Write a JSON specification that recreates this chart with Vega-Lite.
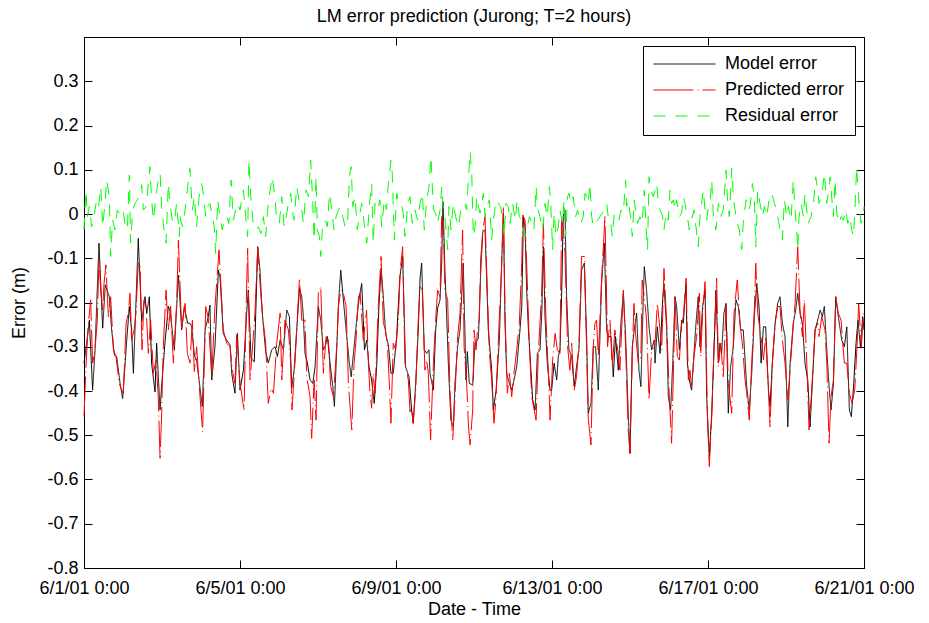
{
  "$schema": "https://vega.github.io/schema/vega-lite/v6.json",
  "width": 780,
  "height": 531,
  "autosize": {"type": "none"},
  "padding": {"left": 84, "top": 37, "right": 65, "bottom": 55},
  "background": "white",
  "config": {
    "font": "Liberation Sans",
    "view": {"stroke": "black", "strokeWidth": 1},
    "axis": {
      "grid": false,
      "domainColor": "black",
      "domainWidth": 1,
      "tickColor": "black",
      "tickWidth": 1,
      "tickSize": -8,
      "labelColor": "black",
      "labelFont": "Liberation Sans",
      "labelFontSize": 18,
      "titleColor": "black",
      "titleFont": "Liberation Sans",
      "titleFontSize": 18,
      "titleFontWeight": "normal",
      "labelFlush": false,
      "labelOverlap": false
    },
    "title": {"font": "Liberation Sans", "fontSize": 18, "fontWeight": "normal", "color": "black", "offset": 11},
    "legend": {
      "orient": "top-right",
      "offset": 9,
      "symbolType": "stroke",
      "symbolSize": 3844,
      "symbolStrokeWidth": 1,
      "labelFont": "Liberation Sans",
      "labelFontSize": 18,
      "labelColor": "black",
      "labelOffset": 9,
      "fillColor": "white",
      "strokeColor": "black",
      "padding": 10,
      "rowPadding": 8,
      "clipHeight": 16,
      "cornerRadius": 0
    }
  },
  "title": "LM error prediction (Jurong; T=2 hours)",
  "datasets": {
    "model": [
      {"h":0,"v":-0.337},{"h":1.6,"v":-0.292},{"h":3.3,"v":-0.24},{"h":5.3,"v":-0.398},{"h":6.8,"v":-0.307},{"h":9.2,"v":-0.066},{"h":11.5,"v":-0.258},{"h":13.1,"v":-0.16},{"h":15.6,"v":-0.187},{"h":17,"v":-0.262},{"h":18.7,"v":-0.319},{"h":20.1,"v":-0.322},{"h":22.2,"v":-0.383},{"h":23.8,"v":-0.417},{"h":26.3,"v":-0.285},{"h":27.9,"v":-0.209},{"h":29.3,"v":-0.262},{"h":30.4,"v":-0.36},{"h":33.4,"v":-0.055},{"h":35.5,"v":-0.243},{"h":37.5,"v":-0.187},{"h":38.6,"v":-0.224},{"h":40.2,"v":-0.187},{"h":41.6,"v":-0.337},{"h":43.7,"v":-0.402},{"h":44.7,"v":-0.292},{"h":46.8,"v":-0.443},{"h":47.8,"v":-0.386},{"h":49.8,"v":-0.292},{"h":51.9,"v":-0.209},{"h":52.9,"v":-0.217},{"h":55.6,"v":-0.307},{"h":58.1,"v":-0.138},{"h":60.1,"v":-0.262},{"h":61.7,"v":-0.209},{"h":63.8,"v":-0.247},{"h":65.2,"v":-0.247},{"h":66.3,"v":-0.255},{"h":67.9,"v":-0.319},{"h":69.3,"v":-0.33},{"h":70.8,"v":-0.375},{"h":72.8,"v":-0.435},{"h":74.5,"v":-0.262},{"h":76.5,"v":-0.232},{"h":77.5,"v":-0.206},{"h":78.6,"v":-0.375},{"h":80.6,"v":-0.3},{"h":82.7,"v":-0.127},{"h":83.7,"v":-0.142},{"h":85.7,"v":-0.27},{"h":87.8,"v":-0.285},{"h":89.9,"v":-0.296},{"h":90.9,"v":-0.36},{"h":92.9,"v":-0.405},{"h":94.4,"v":-0.27},{"h":96,"v":-0.398},{"h":98.1,"v":-0.353},{"h":100.1,"v":-0.224},{"h":101.1,"v":-0.172},{"h":102.8,"v":-0.326},{"h":104.8,"v":-0.334},{"h":106.9,"v":-0.074},{"h":108.3,"v":-0.127},{"h":109.7,"v":-0.224},{"h":111.8,"v":-0.311},{"h":113.4,"v":-0.337},{"h":115.5,"v":-0.307},{"h":117.6,"v":-0.3},{"h":119,"v":-0.322},{"h":120.7,"v":-0.285},{"h":122.7,"v":-0.307},{"h":124.8,"v":-0.217},{"h":126.4,"v":-0.232},{"h":127.8,"v":-0.394},{"h":129.3,"v":-0.353},{"h":130.9,"v":-0.262},{"h":132.6,"v":-0.168},{"h":134,"v":-0.187},{"h":135,"v":-0.232},{"h":136,"v":-0.315},{"h":137.5,"v":-0.337},{"h":139.1,"v":-0.375},{"h":140.8,"v":-0.383},{"h":142.2,"v":-0.345},{"h":144.2,"v":-0.209},{"h":145.7,"v":-0.24},{"h":147.3,"v":-0.307},{"h":148.4,"v":-0.3},{"h":149.8,"v":-0.277},{"h":151.4,"v":-0.337},{"h":153.1,"v":-0.39},{"h":154.1,"v":-0.435},{"h":155.5,"v":-0.307},{"h":156.6,"v":-0.202},{"h":158,"v":-0.127},{"h":159.6,"v":-0.194},{"h":161.7,"v":-0.277},{"h":163.3,"v":-0.337},{"h":164.4,"v":-0.368},{"h":165.8,"v":-0.315},{"h":168.2,"v":-0.224},{"h":169.5,"v":-0.187},{"h":170.9,"v":-0.157},{"h":172.6,"v":-0.307},{"h":174,"v":-0.285},{"h":175.4,"v":-0.345},{"h":177,"v":-0.375},{"h":178.6,"v":-0.428},{"h":180.1,"v":-0.345},{"h":181.5,"v":-0.209},{"h":182.8,"v":-0.123},{"h":184.2,"v":-0.187},{"h":185.6,"v":-0.27},{"h":187.3,"v":-0.296},{"h":188.9,"v":-0.36},{"h":190.3,"v":-0.36},{"h":192.4,"v":-0.277},{"h":194.4,"v":-0.142},{"h":196.1,"v":-0.096},{"h":197.9,"v":-0.345},{"h":200,"v":-0.368},{"h":201.6,"v":-0.443},{"h":202.6,"v":-0.473},{"h":204.1,"v":-0.383},{"h":205.7,"v":-0.262},{"h":206.8,"v":-0.145},{"h":207.8,"v":-0.111},{"h":209.4,"v":-0.307},{"h":210.9,"v":-0.315},{"h":212.3,"v":-0.307},{"h":212.9,"v":-0.36},{"h":215,"v":-0.398},{"h":216.4,"v":-0.262},{"h":217.6,"v":-0.213},{"h":219.1,"v":-0.194},{"h":220.1,"v":-0.111},{"h":220.9,"v":0.028},{"h":222.1,"v":-0.127},{"h":223.2,"v":-0.232},{"h":224.2,"v":-0.337},{"h":225.8,"v":-0.466},{"h":227.3,"v":-0.481},{"h":228.3,"v":-0.383},{"h":229.9,"v":-0.3},{"h":231.4,"v":-0.262},{"h":233.4,"v":-0.111},{"h":235.1,"v":-0.375},{"h":235.9,"v":-0.311},{"h":237.1,"v":-0.383},{"h":239.2,"v":-0.386},{"h":240.6,"v":-0.292},{"h":242.7,"v":-0.281},{"h":244.1,"v":-0.134},{"h":245.4,"v":-0.04},{"h":246.8,"v":-0.036},{"h":247.8,"v":-0.149},{"h":248.8,"v":-0.262},{"h":250.9,"v":-0.353},{"h":251.9,"v":-0.443},{"h":253.6,"v":-0.398},{"h":255.6,"v":-0.285},{"h":257,"v":-0.111},{"h":258.1,"v":0.002},{"h":259.1,"v":-0.247},{"h":260.1,"v":-0.36},{"h":261.8,"v":-0.383},{"h":263.2,"v":-0.398},{"h":264.2,"v":-0.383},{"h":266.3,"v":-0.345},{"h":268.3,"v":-0.262},{"h":269.4,"v":-0.209},{"h":270.4,"v":-0.006},{"h":271.4,"v":-0.029},{"h":272.4,"v":-0.172},{"h":273.5,"v":-0.262},{"h":274.9,"v":-0.345},{"h":276.1,"v":-0.42},{"h":277.6,"v":-0.443},{"h":279,"v":-0.315},{"h":280.6,"v":-0.307},{"h":281.7,"v":-0.224},{"h":282.7,"v":-0.074},{"h":283.7,"v":-0.232},{"h":285.1,"v":-0.337},{"h":286.8,"v":-0.398},{"h":287.8,"v":-0.398},{"h":289.3,"v":-0.337},{"h":290.9,"v":-0.375},{"h":291.9,"v":-0.322},{"h":292.9,"v":-0.307},{"h":293.9,"v":-0.187},{"h":294.9,"v":-0.006},{"h":296,"v":0.009},{"h":297,"v":-0.187},{"h":298.4,"v":-0.307},{"h":300.1,"v":-0.322},{"h":301.7,"v":-0.39},{"h":303.1,"v":-0.345},{"h":304.6,"v":-0.307},{"h":306.2,"v":-0.127},{"h":307.9,"v":-0.111},{"h":309.3,"v":-0.277},{"h":310.3,"v":-0.45},{"h":312,"v":-0.428},{"h":313.4,"v":-0.3},{"h":314.8,"v":-0.3},{"h":316.5,"v":-0.398},{"h":318.5,"v":-0.157},{"h":320.2,"v":-0.066},{"h":321.6,"v":-0.262},{"h":322.6,"v":-0.277},{"h":324.3,"v":-0.277},{"h":325.7,"v":-0.368},{"h":327.1,"v":-0.277},{"h":328.8,"v":-0.353},{"h":330.4,"v":-0.247},{"h":331.9,"v":-0.179},{"h":333.3,"v":-0.277},{"h":334.9,"v":-0.45},{"h":336,"v":-0.541},{"h":337.4,"v":-0.3},{"h":338.6,"v":-0.262},{"h":340.1,"v":-0.224},{"h":341.5,"v":-0.353},{"h":342.7,"v":-0.39},{"h":344.2,"v":-0.187},{"h":344.8,"v":-0.119},{"h":346.2,"v":-0.172},{"h":347.7,"v":-0.255},{"h":349.3,"v":-0.307},{"h":350.9,"v":-0.285},{"h":351.4,"v":-0.337},{"h":352.8,"v":-0.255},{"h":354.5,"v":-0.315},{"h":356.1,"v":-0.194},{"h":356.9,"v":-0.157},{"h":358.6,"v":-0.262},{"h":359.6,"v":-0.413},{"h":361,"v":-0.443},{"h":362.3,"v":-0.337},{"h":363.7,"v":-0.187},{"h":364.7,"v":-0.209},{"h":366.4,"v":-0.307},{"h":367.8,"v":-0.24},{"h":368.8,"v":-0.247},{"h":370.5,"v":-0.157},{"h":371.3,"v":-0.337},{"h":372.5,"v":-0.375},{"h":373.9,"v":-0.398},{"h":375,"v":-0.337},{"h":376.6,"v":-0.247},{"h":378,"v":-0.187},{"h":379.1,"v":-0.3},{"h":380.7,"v":-0.209},{"h":382.2,"v":-0.172},{"h":383.2,"v":-0.413},{"h":384.8,"v":-0.548},{"h":386.3,"v":-0.45},{"h":387.7,"v":-0.307},{"h":388.9,"v":-0.172},{"h":390.4,"v":-0.337},{"h":391.4,"v":-0.292},{"h":392.4,"v":-0.315},{"h":393.8,"v":-0.224},{"h":395.1,"v":-0.202},{"h":396.5,"v":-0.45},{"h":397.9,"v":-0.345},{"h":399.6,"v":-0.3},{"h":401.2,"v":-0.194},{"h":402.7,"v":-0.209},{"h":404.1,"v":-0.262},{"h":405.7,"v":-0.262},{"h":407.8,"v":-0.39},{"h":409.4,"v":-0.443},{"h":410.9,"v":-0.36},{"h":412.5,"v":-0.232},{"h":414,"v":-0.157},{"h":415.4,"v":-0.209},{"h":416.7,"v":-0.337},{"h":418.1,"v":-0.255},{"h":419.5,"v":-0.255},{"h":421.2,"v":-0.398},{"h":422.2,"v":-0.435},{"h":423.6,"v":-0.337},{"h":425.3,"v":-0.247},{"h":426.9,"v":-0.202},{"h":428.3,"v":-0.187},{"h":429.8,"v":-0.247},{"h":431.4,"v":-0.277},{"h":433.1,"v":-0.481},{"h":434.5,"v":-0.337},{"h":436.5,"v":-0.247},{"h":438,"v":-0.217},{"h":439.2,"v":-0.179},{"h":440.7,"v":-0.224},{"h":442.1,"v":-0.247},{"h":443.7,"v":-0.337},{"h":445.4,"v":-0.375},{"h":446.8,"v":-0.481},{"h":448.2,"v":-0.383},{"h":449.9,"v":-0.262},{"h":451.5,"v":-0.24},{"h":453,"v":-0.217},{"h":454.4,"v":-0.232},{"h":455.6,"v":-0.209},{"h":457.1,"v":-0.307},{"h":458.5,"v":-0.39},{"h":459.7,"v":-0.443},{"h":461.2,"v":-0.383},{"h":462.6,"v":-0.187},{"h":464.2,"v":-0.232},{"h":466.3,"v":-0.285},{"h":467.9,"v":-0.3},{"h":469.4,"v":-0.255},{"h":471,"v":-0.443},{"h":472.2,"v":-0.458},{"h":473.7,"v":-0.383},{"h":475.1,"v":-0.292},{"h":476.3,"v":-0.24},{"h":477.8,"v":-0.3},{"h":479.2,"v":-0.232},{"h":480,"v":-0.262}
    ],
    "pred": [
      {"h":0,"v":-0.458},{"h":1.2,"v":-0.345},{"h":2.7,"v":-0.247},{"h":4.1,"v":-0.194},{"h":5.3,"v":-0.337},{"h":6.8,"v":-0.307},{"h":8.2,"v":-0.24},{"h":9.2,"v":-0.104},{"h":10.3,"v":-0.172},{"h":11.5,"v":-0.217},{"h":12.3,"v":-0.157},{"h":13.5,"v":-0.115},{"h":15,"v":-0.232},{"h":16.4,"v":-0.187},{"h":18.1,"v":-0.307},{"h":19.7,"v":-0.322},{"h":21.7,"v":-0.383},{"h":23.2,"v":-0.398},{"h":24.2,"v":-0.405},{"h":25.9,"v":-0.247},{"h":27.3,"v":-0.224},{"h":28.3,"v":-0.179},{"h":29.3,"v":-0.285},{"h":30.8,"v":-0.262},{"h":32,"v":-0.224},{"h":33.4,"v":-0.111},{"h":34.5,"v":-0.111},{"h":35.7,"v":-0.307},{"h":36.9,"v":-0.194},{"h":38.2,"v":-0.209},{"h":39.6,"v":-0.315},{"h":41,"v":-0.24},{"h":42.7,"v":-0.36},{"h":44.3,"v":-0.33},{"h":45.7,"v":-0.413},{"h":46.8,"v":-0.552},{"h":47.8,"v":-0.45},{"h":48.8,"v":-0.3},{"h":50.5,"v":-0.172},{"h":51.9,"v":-0.262},{"h":53.3,"v":-0.209},{"h":55,"v":-0.337},{"h":57,"v":-0.202},{"h":58.1,"v":-0.059},{"h":60.1,"v":-0.26},{"h":62.2,"v":-0.202},{"h":63.6,"v":-0.315},{"h":65.2,"v":-0.337},{"h":66.7,"v":-0.24},{"h":67.9,"v":-0.356},{"h":69.3,"v":-0.3},{"h":71.4,"v":-0.413},{"h":73,"v":-0.492},{"h":74.9,"v":-0.209},{"h":76.5,"v":-0.236},{"h":78.6,"v":-0.368},{"h":80.6,"v":-0.209},{"h":83.1,"v":-0.081},{"h":85.7,"v":-0.262},{"h":87.8,"v":-0.292},{"h":89.9,"v":-0.3},{"h":91.3,"v":-0.353},{"h":92.9,"v":-0.383},{"h":94,"v":-0.273},{"h":96,"v":-0.383},{"h":98.5,"v":-0.443},{"h":100.1,"v":-0.16},{"h":100.7,"v":-0.078},{"h":102.2,"v":-0.375},{"h":103.6,"v":-0.307},{"h":105.2,"v":-0.224},{"h":106.9,"v":-0.078},{"h":108.9,"v":-0.187},{"h":110.4,"v":-0.247},{"h":111.8,"v":-0.292},{"h":113.4,"v":-0.428},{"h":115.1,"v":-0.394},{"h":116.6,"v":-0.405},{"h":118.6,"v":-0.292},{"h":120.7,"v":-0.224},{"h":121.7,"v":-0.375},{"h":123.7,"v":-0.24},{"h":125.8,"v":-0.262},{"h":127.2,"v":-0.337},{"h":128,"v":-0.443},{"h":129.9,"v":-0.33},{"h":130.9,"v":-0.262},{"h":132.6,"v":-0.145},{"h":134,"v":-0.24},{"h":136,"v":-0.24},{"h":137.1,"v":-0.368},{"h":139.1,"v":-0.413},{"h":140.1,"v":-0.507},{"h":141.6,"v":-0.375},{"h":142.8,"v":-0.466},{"h":144.2,"v":-0.179},{"h":145.7,"v":-0.164},{"h":147.3,"v":-0.36},{"h":149,"v":-0.277},{"h":150.4,"v":-0.285},{"h":151.8,"v":-0.39},{"h":153.5,"v":-0.413},{"h":155.5,"v":-0.3},{"h":156.6,"v":-0.209},{"h":158,"v":-0.172},{"h":159.6,"v":-0.179},{"h":161.3,"v":-0.209},{"h":162.7,"v":-0.383},{"h":163.7,"v":-0.435},{"h":164.8,"v":-0.488},{"h":166.2,"v":-0.337},{"h":167.4,"v":-0.285},{"h":168.9,"v":-0.187},{"h":169.9,"v":-0.179},{"h":171.9,"v":-0.285},{"h":173.9,"v":-0.217},{"h":175,"v":-0.337},{"h":176,"v":-0.405},{"h":177,"v":-0.439},{"h":178,"v":-0.36},{"h":179.1,"v":-0.405},{"h":181.1,"v":-0.209},{"h":182.8,"v":-0.096},{"h":184.2,"v":-0.247},{"h":185.6,"v":-0.262},{"h":186.9,"v":-0.307},{"h":187.7,"v":-0.368},{"h":188.9,"v":-0.473},{"h":190.3,"v":-0.292},{"h":191.8,"v":-0.307},{"h":193.4,"v":-0.24},{"h":194.6,"v":-0.127},{"h":196.1,"v":-0.074},{"h":197.5,"v":-0.337},{"h":199.6,"v":-0.375},{"h":200.6,"v":-0.447},{"h":201.6,"v":-0.435},{"h":202.6,"v":-0.473},{"h":204.1,"v":-0.398},{"h":205.7,"v":-0.24},{"h":206.8,"v":-0.164},{"h":208.2,"v":-0.172},{"h":209.8,"v":-0.353},{"h":210.9,"v":-0.33},{"h":211.9,"v":-0.36},{"h":213.3,"v":-0.511},{"h":215,"v":-0.337},{"h":216.4,"v":-0.24},{"h":217.6,"v":-0.172},{"h":219.1,"v":-0.187},{"h":220.1,"v":-0.006},{"h":221.1,"v":-0.014},{"h":222.1,"v":-0.172},{"h":223.8,"v":-0.194},{"h":225.2,"v":-0.398},{"h":226.9,"v":-0.511},{"h":228.3,"v":-0.413},{"h":229.9,"v":-0.277},{"h":231.4,"v":-0.224},{"h":233,"v":-0.036},{"h":233.9,"v":-0.3},{"h":235.5,"v":-0.383},{"h":236.5,"v":-0.473},{"h":237.6,"v":-0.522},{"h":239.2,"v":-0.443},{"h":240,"v":-0.262},{"h":241.3,"v":-0.307},{"h":242.1,"v":-0.262},{"h":243.3,"v":-0.24},{"h":244.1,"v":-0.104},{"h":245.4,"v":-0.036},{"h":246.8,"v":-0.006},{"h":247.8,"v":-0.127},{"h":249.5,"v":-0.315},{"h":250.9,"v":-0.375},{"h":252.3,"v":-0.473},{"h":253.6,"v":-0.413},{"h":255.6,"v":-0.232},{"h":257,"v":-0.119},{"h":258.1,"v":0.017},{"h":259.1,"v":-0.224},{"h":260.5,"v":-0.405},{"h":261.8,"v":-0.36},{"h":263.2,"v":-0.413},{"h":264.6,"v":-0.36},{"h":266.3,"v":-0.307},{"h":267.9,"v":-0.247},{"h":269.4,"v":-0.111},{"h":270,"v":-0.002},{"h":271.4,"v":-0.014},{"h":272.4,"v":-0.111},{"h":274.1,"v":-0.3},{"h":275.5,"v":-0.413},{"h":278.2,"v":-0.466},{"h":279.6,"v":-0.315},{"h":281.7,"v":-0.172},{"h":282.7,"v":-0.021},{"h":284.3,"v":-0.24},{"h":285.8,"v":-0.36},{"h":286.8,"v":-0.466},{"h":288.4,"v":-0.33},{"h":289.9,"v":-0.27},{"h":291.3,"v":-0.307},{"h":292.9,"v":-0.315},{"h":293.9,"v":-0.014},{"h":294.9,"v":-0.029},{"h":296,"v":-0.089},{"h":297.6,"v":-0.3},{"h":299,"v":-0.353},{"h":300.1,"v":-0.292},{"h":301.7,"v":-0.398},{"h":303.1,"v":-0.368},{"h":304.6,"v":-0.292},{"h":306.2,"v":-0.096},{"h":307.9,"v":-0.096},{"h":309.3,"v":-0.307},{"h":310.3,"v":-0.462},{"h":312,"v":-0.522},{"h":313.4,"v":-0.3},{"h":314.4,"v":-0.247},{"h":315.4,"v":-0.24},{"h":316.5,"v":-0.322},{"h":318.5,"v":-0.149},{"h":320.6,"v":-0.006},{"h":322.2,"v":-0.3},{"h":323.7,"v":-0.24},{"h":325.1,"v":-0.345},{"h":326.7,"v":-0.262},{"h":328.4,"v":-0.307},{"h":329.8,"v":-0.353},{"h":331.9,"v":-0.172},{"h":333.3,"v":-0.3},{"h":334.9,"v":-0.488},{"h":336,"v":-0.541},{"h":337.4,"v":-0.322},{"h":338.4,"v":-0.202},{"h":339.4,"v":-0.27},{"h":341.1,"v":-0.337},{"h":342.7,"v":-0.322},{"h":343.5,"v":-0.149},{"h":344.8,"v":-0.187},{"h":346.2,"v":-0.24},{"h":347.7,"v":-0.42},{"h":349.3,"v":-0.307},{"h":351.3,"v":-0.3},{"h":352.8,"v":-0.202},{"h":354.5,"v":-0.262},{"h":355.5,"v":-0.307},{"h":356.9,"v":-0.123},{"h":358.6,"v":-0.247},{"h":360.2,"v":-0.413},{"h":361.6,"v":-0.518},{"h":363.1,"v":-0.3},{"h":363.7,"v":-0.187},{"h":365.1,"v":-0.322},{"h":366.4,"v":-0.33},{"h":367.8,"v":-0.247},{"h":368.8,"v":-0.232},{"h":370.5,"v":-0.145},{"h":371.9,"v":-0.375},{"h":372.9,"v":-0.353},{"h":373.9,"v":-0.39},{"h":375.4,"v":-0.322},{"h":377,"v":-0.277},{"h":378.7,"v":-0.179},{"h":379.5,"v":-0.322},{"h":380.7,"v":-0.224},{"h":382.2,"v":-0.153},{"h":383.6,"v":-0.45},{"h":384.8,"v":-0.571},{"h":386.3,"v":-0.458},{"h":387.7,"v":-0.3},{"h":389.3,"v":-0.145},{"h":390.4,"v":-0.345},{"h":391.8,"v":-0.292},{"h":393.4,"v":-0.368},{"h":395.1,"v":-0.209},{"h":396.5,"v":-0.383},{"h":398.6,"v":-0.45},{"h":400,"v":-0.224},{"h":402,"v":-0.149},{"h":403.7,"v":-0.247},{"h":405.3,"v":-0.3},{"h":406.8,"v":-0.375},{"h":407.8,"v":-0.405},{"h":409.4,"v":-0.466},{"h":410.9,"v":-0.337},{"h":412.5,"v":-0.217},{"h":413.4,"v":-0.111},{"h":414.6,"v":-0.224},{"h":416,"v":-0.262},{"h":417.1,"v":-0.292},{"h":418.1,"v":-0.33},{"h":419.5,"v":-0.277},{"h":421.2,"v":-0.398},{"h":422.2,"v":-0.481},{"h":423.6,"v":-0.337},{"h":425.3,"v":-0.247},{"h":426.9,"v":-0.209},{"h":428.3,"v":-0.209},{"h":429.8,"v":-0.285},{"h":431.4,"v":-0.337},{"h":433.1,"v":-0.42},{"h":434.5,"v":-0.353},{"h":436.5,"v":-0.247},{"h":437.6,"v":-0.202},{"h":439.2,"v":-0.074},{"h":440.7,"v":-0.224},{"h":442.1,"v":-0.277},{"h":443.3,"v":-0.194},{"h":444.8,"v":-0.337},{"h":446.2,"v":-0.488},{"h":447.8,"v":-0.398},{"h":449.9,"v":-0.262},{"h":451.5,"v":-0.247},{"h":452.3,"v":-0.277},{"h":454,"v":-0.232},{"h":456,"v":-0.262},{"h":457.1,"v":-0.337},{"h":458.5,"v":-0.518},{"h":459.7,"v":-0.413},{"h":461.2,"v":-0.375},{"h":462.6,"v":-0.187},{"h":464.2,"v":-0.224},{"h":465.9,"v":-0.24},{"h":467.9,"v":-0.337},{"h":469.4,"v":-0.337},{"h":471,"v":-0.405},{"h":472.6,"v":-0.428},{"h":474.3,"v":-0.398},{"h":475.7,"v":-0.3},{"h":476.7,"v":-0.202},{"h":478.4,"v":-0.3},{"h":479.8,"v":-0.217}
    ],
    "resid": [
      {"h":0,"v":-0.036},{"h":1.2,"v":0.054},{"h":2.1,"v":-0.006},{"h":3.3,"v":0.017},{"h":4.7,"v":-0.029},{"h":6.2,"v":-0.006},{"h":7.4,"v":0.024},{"h":8.8,"v":0.009},{"h":10.3,"v":0.062},{"h":11.5,"v":-0.029},{"h":12.9,"v":0.024},{"h":14,"v":0.077},{"h":15.6,"v":0.039},{"h":16.4,"v":-0.096},{"h":17.6,"v":-0.014},{"h":19.1,"v":-0.036},{"h":20.5,"v":0.009},{"h":21.7,"v":0.002},{"h":23.2,"v":-0.006},{"h":24.2,"v":0.005},{"h":25.2,"v":-0.021},{"h":26.7,"v":-0.036},{"h":27.9,"v":0.088},{"h":28.7,"v":-0.066},{"h":30,"v":0.009},{"h":31.4,"v":0.024},{"h":32.8,"v":0.032},{"h":34.1,"v":0.039},{"h":35.5,"v":0.066},{"h":36.5,"v":0.009},{"h":38.2,"v":0.017},{"h":39.6,"v":0.069},{"h":40.6,"v":0.107},{"h":41.6,"v":0.032},{"h":42.7,"v":-0.014},{"h":44.3,"v":0.039},{"h":45.7,"v":0.077},{"h":46.8,"v":0.092},{"h":47.8,"v":0.017},{"h":49.2,"v":-0.036},{"h":50.5,"v":-0.066},{"h":51.9,"v":0.069},{"h":52.9,"v":0.024},{"h":54.6,"v":-0.021},{"h":56,"v":-0.006},{"h":57,"v":0.024},{"h":58.7,"v":-0.051},{"h":59.1,"v":-0.006},{"h":60.5,"v":-0.029},{"h":62.2,"v":0.009},{"h":63.8,"v":0.062},{"h":65.2,"v":0.103},{"h":66.7,"v":0.009},{"h":67.9,"v":0.039},{"h":69.3,"v":-0.029},{"h":70.8,"v":0.039},{"h":72.4,"v":0.069},{"h":73.4,"v":0.047},{"h":74.9,"v":-0.006},{"h":76.1,"v":0.017},{"h":77.5,"v":0.024},{"h":79,"v":-0.006},{"h":80.2,"v":-0.029},{"h":81,"v":-0.089},{"h":82.3,"v":0.032},{"h":83.7,"v":-0.006},{"h":85.1,"v":-0.036},{"h":86.4,"v":-0.014},{"h":87.8,"v":-0.006},{"h":89.2,"v":-0.021},{"h":90.5,"v":0.077},{"h":91.9,"v":-0.014},{"h":93.3,"v":0.009},{"h":94.6,"v":0.024},{"h":96,"v":0.009},{"h":98.1,"v":0.054},{"h":99.5,"v":-0.006},{"h":100.7,"v":-0.051},{"h":101.5,"v":0.122},{"h":102.8,"v":0.024},{"h":104.2,"v":-0.021},{"h":105.6,"v":-0.036},{"h":107.3,"v":-0.029},{"h":108.9,"v":-0.044},{"h":110.4,"v":-0.006},{"h":111.8,"v":-0.051},{"h":113,"v":0.009},{"h":114.5,"v":0.054},{"h":115.9,"v":0.084},{"h":117.6,"v":0.032},{"h":118.6,"v":-0.014},{"h":120.2,"v":-0.021},{"h":121.7,"v":0.039},{"h":123.1,"v":-0.029},{"h":124.4,"v":-0.006},{"h":125.8,"v":0.024},{"h":127.2,"v":0.047},{"h":128.5,"v":0.002},{"h":129.3,"v":-0.014},{"h":130.9,"v":0.062},{"h":132.6,"v":0.024},{"h":134,"v":0.009},{"h":135,"v":-0.021},{"h":136.7,"v":0.054},{"h":138.1,"v":0.039},{"h":139.5,"v":0.122},{"h":140.8,"v":0.024},{"h":141.6,"v":-0.059},{"h":142.8,"v":0.084},{"h":143.6,"v":-0.036},{"h":144.9,"v":-0.051},{"h":145.7,"v":-0.096},{"h":146.9,"v":-0.021},{"h":148.4,"v":-0.014},{"h":149.8,"v":-0.029},{"h":151,"v":0.047},{"h":152.5,"v":0.009},{"h":153.9,"v":-0.036},{"h":155.1,"v":-0.006},{"h":156.6,"v":0.009},{"h":158,"v":0.017},{"h":159.2,"v":-0.006},{"h":160.7,"v":-0.029},{"h":162.1,"v":-0.029},{"h":163.3,"v":0.084},{"h":164.4,"v":0.107},{"h":165.4,"v":0.017},{"h":166.8,"v":0.039},{"h":168.2,"v":-0.036},{"h":169.5,"v":-0.006},{"h":170.9,"v":0.024},{"h":172.4,"v":-0.021},{"h":174,"v":-0.066},{"h":175.6,"v":0.017},{"h":177,"v":0.069},{"h":178,"v":-0.066},{"h":179.1,"v":0.024},{"h":180.7,"v":0.009},{"h":182.1,"v":0.032},{"h":183.2,"v":-0.029},{"h":184.8,"v":0.032},{"h":186.2,"v":0.009},{"h":187.3,"v":0.069},{"h":188.9,"v":0.122},{"h":189.7,"v":0.092},{"h":191,"v":-0.059},{"h":192.4,"v":0.047},{"h":193.8,"v":0.024},{"h":195.1,"v":0.024},{"h":196.5,"v":0.002},{"h":197.5,"v":-0.051},{"h":199.2,"v":0.024},{"h":200.6,"v":0.039},{"h":202,"v":-0.021},{"h":203.7,"v":0.009},{"h":205.3,"v":-0.014},{"h":206.8,"v":0.024},{"h":208.2,"v":0.047},{"h":209.4,"v":-0.036},{"h":210.9,"v":0.032},{"h":212.3,"v":0.062},{"h":213.5,"v":0.13},{"h":215,"v":0.009},{"h":216.4,"v":0.002},{"h":217.6,"v":-0.021},{"h":219.1,"v":0.009},{"h":220.1,"v":0.062},{"h":221.1,"v":0.009},{"h":222.1,"v":-0.006},{"h":223.8,"v":-0.081},{"h":224.6,"v":0.017},{"h":225.8,"v":-0.036},{"h":227.3,"v":0.024},{"h":228.7,"v":-0.006},{"h":230.3,"v":-0.029},{"h":232,"v":0.009},{"h":233.4,"v":0.009},{"h":234.5,"v":0.024},{"h":235.5,"v":0.009},{"h":236.5,"v":0.077},{"h":237.6,"v":0.141},{"h":238.6,"v":0.092},{"h":239.6,"v":-0.051},{"h":240.6,"v":-0.029},{"h":241.7,"v":0.039},{"h":242.7,"v":0.017},{"h":243.7,"v":0.002},{"h":244.7,"v":0.024},{"h":245.8,"v":0.047},{"h":246.8,"v":-0.006},{"h":247.8,"v":0.017},{"h":249.5,"v":0.032},{"h":250.9,"v":-0.059},{"h":251.9,"v":-0.014},{"h":253.6,"v":0.032},{"h":255,"v":0.024},{"h":256.4,"v":0.017},{"h":257.7,"v":-0.014},{"h":258.5,"v":-0.051},{"h":259.7,"v":0.024},{"h":261.1,"v":0.017},{"h":262.2,"v":-0.021},{"h":263.8,"v":0.024},{"h":265.3,"v":-0.014},{"h":266.7,"v":0.032},{"h":267.9,"v":-0.006},{"h":269.4,"v":-0.014},{"h":270.4,"v":-0.036},{"h":271.4,"v":-0.051},{"h":272.4,"v":-0.036},{"h":274.1,"v":-0.006},{"h":275.5,"v":-0.021},{"h":276.9,"v":-0.036},{"h":278.2,"v":0.062},{"h":279,"v":0.017},{"h":280.6,"v":-0.006},{"h":282.3,"v":-0.036},{"h":283.7,"v":0.024},{"h":285.1,"v":-0.006},{"h":286.4,"v":0.062},{"h":287.2,"v":0.024},{"h":288.4,"v":-0.081},{"h":289.3,"v":0.002},{"h":290.5,"v":-0.051},{"h":291.9,"v":-0.029},{"h":292.9,"v":0.009},{"h":294.3,"v":-0.021},{"h":295.5,"v":0.032},{"h":296.4,"v":-0.051},{"h":297.6,"v":0.039},{"h":298.4,"v":0.047},{"h":299.7,"v":0.024},{"h":301.1,"v":0.039},{"h":302.5,"v":-0.006},{"h":303.8,"v":0.009},{"h":304.6,"v":-0.006},{"h":305.8,"v":-0.021},{"h":307.2,"v":-0.006},{"h":308.3,"v":0.047},{"h":309.3,"v":0.039},{"h":310.3,"v":0.024},{"h":311.3,"v":0.069},{"h":312.4,"v":-0.006},{"h":313.4,"v":-0.029},{"h":314.4,"v":-0.021},{"h":316.1,"v":-0.014},{"h":317.5,"v":-0.006},{"h":318.9,"v":0.002},{"h":320.2,"v":0.009},{"h":321.6,"v":0.024},{"h":322.6,"v":-0.006},{"h":323.7,"v":-0.006},{"h":325.1,"v":-0.051},{"h":326.3,"v":0.002},{"h":327.8,"v":-0.006},{"h":329.2,"v":-0.014},{"h":330.4,"v":0.009},{"h":331.9,"v":0.002},{"h":333.3,"v":0.077},{"h":333.9,"v":0.017},{"h":334.9,"v":0.032},{"h":336.6,"v":-0.014},{"h":337.4,"v":-0.051},{"h":338.6,"v":0.032},{"h":339.4,"v":0.009},{"h":340.7,"v":-0.021},{"h":342.1,"v":-0.006},{"h":343.5,"v":-0.021},{"h":344.8,"v":0.054},{"h":345.6,"v":-0.014},{"h":346.8,"v":-0.081},{"h":347.7,"v":0.084},{"h":348.9,"v":0.054},{"h":350.3,"v":0.039},{"h":351.4,"v":0.054},{"h":352.4,"v":0.069},{"h":353.4,"v":0.024},{"h":354.5,"v":0.009},{"h":356.1,"v":-0.006},{"h":356.9,"v":-0.036},{"h":358.2,"v":0.002},{"h":359.6,"v":-0.014},{"h":360.6,"v":0.054},{"h":361.6,"v":0.024},{"h":362.7,"v":0.032},{"h":363.7,"v":0.009},{"h":364.7,"v":0.032},{"h":366.4,"v":-0.006},{"h":367.8,"v":0.002},{"h":368.8,"v":0.039},{"h":369.8,"v":0.024},{"h":371.3,"v":-0.006},{"h":372.5,"v":-0.036},{"h":373.9,"v":-0.014},{"h":375.4,"v":0.009},{"h":376.6,"v":-0.029},{"h":378,"v":-0.074},{"h":379.1,"v":-0.006},{"h":380.1,"v":0.024},{"h":381.1,"v":0.054},{"h":382.2,"v":0.009},{"h":383.2,"v":-0.014},{"h":384.2,"v":0.017},{"h":385.2,"v":0.024},{"h":386.3,"v":0.077},{"h":387.3,"v":-0.006},{"h":388.9,"v":-0.036},{"h":390.4,"v":0.024},{"h":391.8,"v":-0.006},{"h":393.4,"v":0.009},{"h":395.1,"v":0.099},{"h":395.9,"v":0.039},{"h":397.1,"v":-0.006},{"h":398.6,"v":0.103},{"h":399.6,"v":0.039},{"h":400.6,"v":0.009},{"h":402,"v":-0.021},{"h":403.3,"v":-0.036},{"h":404.7,"v":-0.081},{"h":405.7,"v":-0.021},{"h":407.4,"v":0.032},{"h":408.8,"v":0.009},{"h":409.9,"v":0.017},{"h":411.3,"v":0.069},{"h":412.5,"v":0.039},{"h":413.4,"v":-0.074},{"h":414.6,"v":0.054},{"h":416,"v":0.024},{"h":417.5,"v":-0.006},{"h":418.7,"v":0.017},{"h":420.1,"v":-0.006},{"h":421.6,"v":0.032},{"h":423.2,"v":0.047},{"h":424.9,"v":0.024},{"h":426.3,"v":0.009},{"h":427.3,"v":-0.014},{"h":428.3,"v":-0.036},{"h":429.8,"v":-0.059},{"h":431,"v":0.032},{"h":432.4,"v":-0.006},{"h":433.5,"v":0.017},{"h":435.1,"v":-0.014},{"h":436.5,"v":0.077},{"h":437.6,"v":0.009},{"h":438.6,"v":-0.036},{"h":439.2,"v":-0.081},{"h":440,"v":-0.006},{"h":441.3,"v":0.024},{"h":442.7,"v":-0.006},{"h":443.7,"v":0.047},{"h":444.8,"v":0.009},{"h":445.8,"v":-0.021},{"h":447.4,"v":-0.006},{"h":448.9,"v":0.024},{"h":450.3,"v":0.084},{"h":451.5,"v":0.054},{"h":452.3,"v":0.024},{"h":454,"v":0.039},{"h":455.6,"v":0.092},{"h":457.1,"v":0.024},{"h":458.1,"v":0.047},{"h":459.1,"v":0.084},{"h":460.1,"v":0.039},{"h":461.2,"v":-0.006},{"h":462.2,"v":0.077},{"h":463.2,"v":0.002},{"h":464.6,"v":-0.021},{"h":465.9,"v":-0.006},{"h":467.3,"v":-0.014},{"h":468.8,"v":0.009},{"h":470,"v":-0.021},{"h":471.4,"v":-0.006},{"h":472.4,"v":-0.036},{"h":473.5,"v":-0.051},{"h":474.5,"v":0.017},{"h":475.5,"v":0.107},{"h":477,"v":0.017},{"h":478.2,"v":-0.021},{"h":479.6,"v":-0.006},{"h":480,"v":0.017}
    ]
  },
  "layer": [
    {
      "layer": [
        {
          "data": {"name": "model"},
          "mark": {"type": "line", "strokeWidth": 1},
          "encoding": {
            "x": {
              "field": "h", "type": "quantitative",
              "scale": {"domain": [0, 480], "nice": false, "zero": false},
              "axis": {
                "values": [0, 96, 192, 288, 384, 480],
                "labelExpr": "'6/' + (1 + datum.value / 24) + '/01 0:00'",
                "title": "Date - Time",
                "labelPadding": 19,
                "titlePadding": 3
              }
            },
            "y": {
              "field": "v", "type": "quantitative",
              "scale": {"domain": [-0.8, 0.4], "nice": false, "zero": false},
              "axis": {
                "values": [-0.8, -0.7, -0.6, -0.5, -0.4, -0.3, -0.2, -0.1, 0, 0.1, 0.2, 0.3],
                "labelExpr": "'' + round(datum.value * 10) / 10",
                "title": "Error (m)",
                "labelPadding": 14,
                "titlePadding": 18
              }
            },
            "color": {
              "datum": "Model error",
              "scale": {"domain": ["Model error", "Predicted error", "Residual error"], "range": ["#000000", "#ff0000", "#00ff00"]},
              "legend": {"title": null}
            },
            "strokeDash": {
              "datum": "Model error",
              "scale": {"domain": ["Model error", "Predicted error", "Residual error"], "range": [[1, 0], [40, 4, 1, 4], [12, 10]]},
              "legend": {"title": null}
            }
          }
        },
        {
          "data": {"name": "pred"},
          "mark": {"type": "line", "strokeWidth": 1},
          "encoding": {
            "x": {"field": "h", "type": "quantitative", "scale": {"domain": [0, 480], "nice": false, "zero": false}},
            "y": {"field": "v", "type": "quantitative", "scale": {"domain": [-0.8, 0.4], "nice": false, "zero": false}},
            "color": {"datum": "Predicted error"},
            "strokeDash": {"datum": "Predicted error"}
          }
        },
        {
          "data": {"name": "resid"},
          "mark": {"type": "line", "strokeWidth": 1},
          "encoding": {
            "x": {"field": "h", "type": "quantitative", "scale": {"domain": [0, 480], "nice": false, "zero": false}},
            "y": {"field": "v", "type": "quantitative", "scale": {"domain": [-0.8, 0.4], "nice": false, "zero": false}},
            "color": {"datum": "Residual error"},
            "strokeDash": {"datum": "Residual error"}
          }
        }
      ]
    },
    {
      "data": {"values": []},
      "mark": {"type": "line"},
      "encoding": {
        "x": {
          "field": "h", "type": "quantitative",
          "scale": {"domain": [0, 480], "nice": false, "zero": false},
          "axis": {"orient": "top", "labels": false, "title": null, "domain": false, "values": [0, 96, 192, 288, 384, 480]}
        },
        "y": {
          "field": "v", "type": "quantitative",
          "scale": {"domain": [-0.8, 0.4], "nice": false, "zero": false},
          "axis": {"orient": "right", "labels": false, "title": null, "domain": false, "values": [-0.8, -0.7, -0.6, -0.5, -0.4, -0.3, -0.2, -0.1, 0, 0.1, 0.2, 0.3]}
        }
      }
    }
  ],
  "resolve": {"scale": {"x": "independent", "y": "independent"}}
}
